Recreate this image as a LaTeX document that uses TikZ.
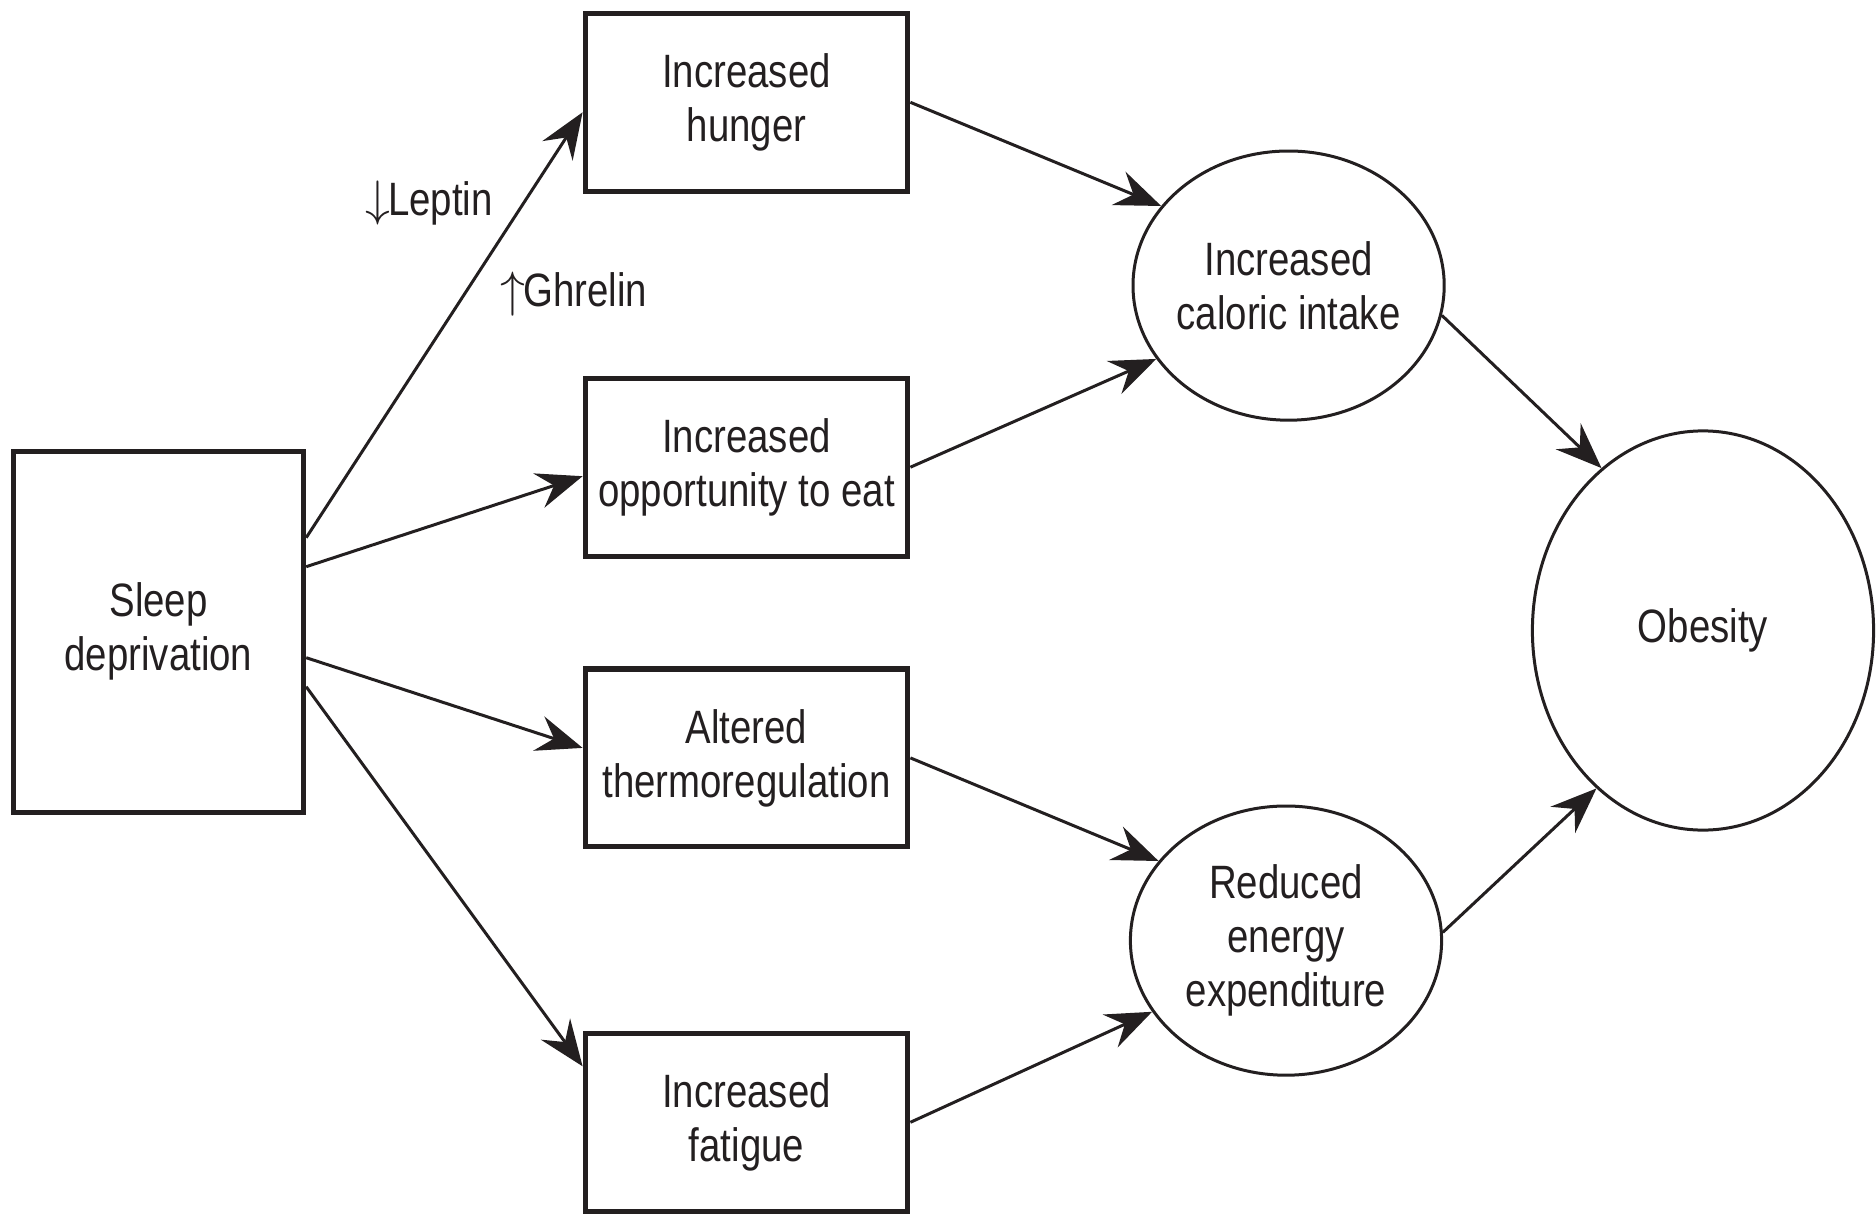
\documentclass[tikz,border=0pt]{standalone}
\usepackage{fontspec}
\setmainfont{Liberation Sans}[FakeStretch=0.82]
\usetikzlibrary{shapes.geometric,arrows.meta}
\definecolor{ink}{RGB}{35,31,32}
\begin{document}
\begin{tikzpicture}[x=0.5pt,y=-0.5pt,
  every node/.style={text=ink,font=\fontsize{23.4}{27}\selectfont,align=center},
  boxnode/.style={draw=ink,line width=2.6pt,rectangle,inner sep=0pt,minimum width=161.3pt,minimum height=88.9pt},
  ellnode/.style={draw=ink,line width=1.5pt,ellipse,inner xsep=-6pt,inner ysep=-6pt,minimum width=155.6pt,minimum height=134.6pt},
  arr/.style={draw=ink,line width=1.5pt,-{Stealth[length=23pt,width=18pt,inset=8pt]}},
  lbl/.style={inner sep=0pt}]
\useasboundingbox (0,0) rectangle (1876,1215);
\node[boxnode,minimum width=145.1pt,minimum height=180.6pt] (sleep) at (158.5,631.7) {Sleep\\deprivation};
\node[boxnode] (hunger) at (746.5,102.3) {Increased\\hunger};
\node[boxnode] (opp) at (746.5,467.2) {Increased\\opportunity to eat};
\node[boxnode] (therm) at (746.5,757.9) {Altered\\thermoregulation};
\node[boxnode] (fat) at (746.5,1122.3) {Increased\\fatigue};
\node[ellnode] (cal) at (1288.6,285.6) {Increased\\caloric intake};
\node[ellnode] (red) at (1286,940.6) {Reduced\\energy\\expenditure};
\node[ellnode,minimum width=170.6pt,minimum height=199.6pt] (obe) at (1703,630.5) {Obesity};
\node[lbl] (leptin) at (429,203) {$\downarrow$\kern-1pt Leptin};
\node[lbl] (ghrelin) at (574,294) {$\uparrow$\kern-1pt Ghrelin};
\draw[arr] ([yshift=47pt]sleep.east) -- ([yshift=-5pt]hunger.west);
\draw[arr] ([yshift=32.5pt]sleep.east) -- ([yshift=-4.5pt]opp.west);
\draw[arr] ([yshift=-13pt]sleep.east) -- ([yshift=5pt]therm.west);
\draw[arr] ([yshift=-27.5pt]sleep.east) -- ([yshift=28pt]fat.west);
\draw[arr] (hunger.east) -- (cal.148.9);
\draw[arr] (opp.east) -- (cal.209.3);
\draw[arr] (therm.east) -- (red.148.3);
\draw[arr] (fat.east) -- (red.208.3);
\draw[arr] (cal.349.7) -- (obe.122.2);
\draw[arr] (red.3.3) -- (obe.236.6);
\end{tikzpicture}
\end{document}
